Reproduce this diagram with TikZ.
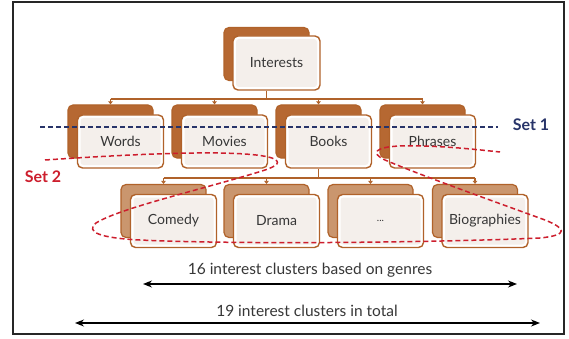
\documentclass[tikz,border=0pt]{standalone}
\usepackage{fontspec}
\setmainfont{Lato}
\usetikzlibrary{arrows.meta}
\definecolor{brn}{RGB}{176,98,42}
\definecolor{backA}{RGB}{182,104,50}
\definecolor{backB}{RGB}{202,150,110}
\definecolor{frontfill}{RGB}{244,239,235}
\definecolor{txt}{RGB}{55,55,55}
\definecolor{navy}{RGB}{40,52,105}
\definecolor{setred}{RGB}{205,30,45}
\begin{document}
\begin{tikzpicture}[x=1pt,y=-1pt,
  backbox/.style={draw=brn, line width=1.2pt, fill=backA, rounded corners=5pt, minimum width=85pt, minimum height=53pt},
  backboxlight/.style={backbox, fill=backB},
  frontbox/.style={draw=brn, line width=1.4pt, fill=white, rounded corners=5pt, minimum width=86pt, minimum height=53pt,
    font=\fontsize{14}{16}\selectfont, text=txt,
    path picture={\fill[frontfill, rounded corners=3pt] ([shift={(3pt,3pt)}]path picture bounding box.south west) rectangle ([shift={(-3pt,-3pt)}]path picture bounding box.north east);}},
  conn/.style={draw=brn, line width=1.2pt},
  drop/.style={conn, -{Triangle[length=3pt,width=4.5pt]}},
  dimarrow/.style={line width=1.3pt, {Stealth[length=9pt,width=7pt]}-{Stealth[length=9pt,width=7pt]}},
  note/.style={text=txt, font=\fontsize{15.5}{17}\selectfont},
  setlabel/.style={font=\bfseries\fontsize{16}{18}\selectfont},
  setline/.style={line width=1.5pt, dash pattern=on 5pt off 3pt},
]
\useasboundingbox (0,0) rectangle (569,339);
\fill[white] (0,0) rectangle (569,339);
\draw[black!85, line width=2.2pt] (13,2) rectangle (564,334);

% level 1
\node[backbox] (ib) at (266.5,54) {};
\node[frontbox, minimum width=87pt, minimum height=54pt] (i) at (276.5,63) {Interests};

% level 2
\node[backbox] (wb) at (110.5,131.5) {};
\node[backbox] (mb) at (214.5,131.5) {};
\node[backbox] (bb) at (318.5,131.5) {};
\node[backbox] (pb) at (422.5,131.5) {};
\node[frontbox] (w) at (120.5,141.5) {Words};
\node[frontbox] (m) at (224.5,141.5) {Movies};
\node[frontbox] (b) at (328.5,141.5) {Books};
\node[frontbox] (p) at (432.5,141.5) {Phrases};

% level 3
\node[backboxlight] (cb) at (163.5,211) {};
\node[backboxlight] (db) at (266.5,211) {};
\node[backboxlight] (eb) at (370.5,211) {};
\node[backboxlight] (gb) at (475,211) {};
\node[frontbox] (c) at (173.5,221) {Comedy};
\node[frontbox] (d) at (276.5,221) {Drama};
\node[frontbox] (e) at (380.5,221) {\fontsize{10}{11}\selectfont...};
\node[frontbox] (g) at (485,221) {Biographies};

% connectors level 1 -> 2
\coordinate (bus1) at (266.5,99);
\draw[conn] (i.south -| ib) -- (bus1);
\draw[conn] (wb.north |- bus1) -- (pb.north |- bus1);
\draw[drop] (wb.north |- bus1) -- (wb.north);
\draw[drop] (mb.north |- bus1) -- (mb.north);
\draw[drop] (bb.north |- bus1) -- (bb.north);
\draw[drop] (pb.north |- bus1) -- (pb.north);

% connectors Books -> level 3
\coordinate (bus2) at (318.5,178);
\draw[conn] (b.south -| bb) -- (bus2);
\draw[conn] (cb.north |- bus2) -- (gb.north |- bus2);
\draw[drop] (cb.north |- bus2) -- (cb.north);
\draw[drop] (db.north |- bus2) -- (db.north);
\draw[drop] (eb.north |- bus2) -- (eb.north);
\draw[drop] (gb.north |- bus2) -- (gb.north);

% Set 1
\draw[setline, navy] (40,127) -- (498,127);
\node[setlabel, text=navy] (set1) at (531,125) {Set 1};

% Set 2
\draw[setline, setred] (45,160) .. controls (120,155) and (240,148) .. (272,158)
  .. controls (282,162) and (278,166) .. (262,171)
  .. controls (200,190) and (120,208) .. (96,223)
  .. controls (85,232) and (100,238) .. (140,240)
  .. controls (250,245) and (450,242) .. (540,238)
  .. controls (570,235) and (565,228) .. (545,220)
  .. controls (490,200) and (420,175) .. (385,160)
  .. controls (370,153) and (375,147) .. (400,146)
  .. controls (440,145) and (480,150) .. (500,152);
\node[setlabel, text=setred] (set2) at (43,177) {Set 2};

% bottom annotations
\node[note] (t16) at (310,270) {16 interest clusters based on genres};
\coordinate (a16l) at (143,284);
\coordinate (a16r) at (517,284);
\draw[dimarrow] (a16l) -- (a16r);
\node[note] (t19) at (307,311) {19 interest clusters in total};
\coordinate (a19l) at (75,323);
\coordinate (a19r) at (540,323);
\draw[dimarrow] (a19l) -- (a19r);
\end{tikzpicture}
\end{document}
